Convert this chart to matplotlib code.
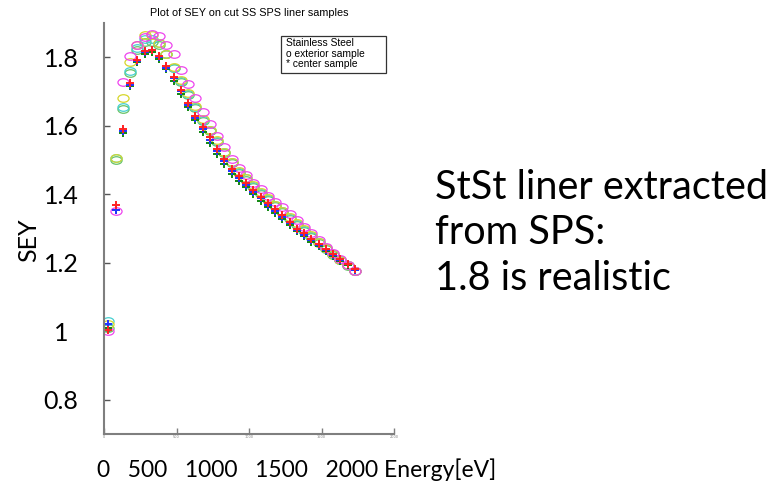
import numpy as np
import matplotlib
matplotlib.use('Agg')
import matplotlib.pyplot as plt
from matplotlib.path import Path
from matplotlib.transforms import Affine2D
from matplotlib.patches import Rectangle

# energy grid of the SEY scans [eV]
energy = [30, 80, 130, 180, 230, 280, 330, 380, 430, 480, 530, 580, 630, 680,
          730, 780, 830, 880, 930, 980, 1030, 1080, 1130, 1180, 1230, 1280,
          1330, 1380, 1430, 1480, 1530, 1580, 1630, 1680, 1730]

# exterior samples (circles)
ext_m = [1.000, 1.350, 1.728, 1.803, 1.835, 1.858, 1.869, 1.861, 1.835, 1.808, 1.764, 1.723,
         1.681, 1.641, 1.605, 1.571, 1.538, 1.502, 1.476, 1.456, 1.434, 1.414, 1.395,
         1.378, 1.362, 1.342, 1.325, 1.305, 1.286, 1.267, 1.245, 1.228, 1.211, 1.194, 1.176]
ext_y = [1.020, 1.506, 1.680, 1.787, 1.835, 1.864, 1.864, 1.842, 1.810, 1.772, 1.733, 1.696,
         1.657, 1.620, 1.589, 1.558, 1.524, 1.495, 1.468, 1.448, 1.426, 1.406, 1.388,
         1.370, 1.352, 1.334, 1.316, 1.298, 1.280, 1.262, 1.243, 1.226, 1.209, 1.193, 1.177]
ext_c = [1.030, 1.506, 1.656, 1.760, 1.826, 1.854, 1.852, 1.842, 1.810, 1.770, 1.730, 1.692,
         1.655, 1.618, 1.587, 1.556, 1.522, 1.493, 1.466, 1.446, 1.424, 1.404, 1.386,
         1.368, 1.350, 1.332, 1.314, 1.296, 1.278, 1.260, 1.242, 1.225, 1.208, 1.192, 1.177]
ext_g = [1.010, 1.500, 1.650, 1.755, 1.820, 1.845, 1.845, 1.835, 1.809, 1.768, 1.728, 1.690,
         1.652, 1.615, 1.585, 1.553, 1.520, 1.490, 1.463, 1.443, 1.421, 1.401, 1.383,
         1.365, 1.347, 1.329, 1.311, 1.294, 1.276, 1.258, 1.240, 1.223, 1.207, 1.191, 1.176]

# center samples (crosses)
cen_r = [1.005, 1.370, 1.590, 1.726, 1.793, 1.818, 1.820, 1.803, 1.774, 1.743, 1.704, 1.667,
         1.629, 1.595, 1.566, 1.533, 1.503, 1.473, 1.453, 1.432, 1.412, 1.393, 1.373,
         1.356, 1.339, 1.320, 1.300, 1.286, 1.268, 1.255, 1.240, 1.226, 1.210, 1.196, 1.181]
cen_b = [1.020, 1.354, 1.585, 1.720, 1.790, 1.815, 1.820, 1.800, 1.770, 1.738, 1.700, 1.660,
         1.624, 1.590, 1.558, 1.527, 1.497, 1.468, 1.447, 1.427, 1.407, 1.388, 1.368,
         1.351, 1.334, 1.316, 1.296, 1.282, 1.265, 1.252, 1.237, 1.223, 1.208, 1.196, 1.180]
cen_g = [1.010, 1.354, 1.580, 1.715, 1.785, 1.810, 1.815, 1.796, 1.765, 1.732, 1.693, 1.655,
         1.616, 1.582, 1.550, 1.518, 1.488, 1.460, 1.440, 1.420, 1.400, 1.381, 1.362,
         1.345, 1.328, 1.310, 1.292, 1.278, 1.262, 1.249, 1.235, 1.221, 1.206, 1.193, 1.178]

yticks = [0.8, 1.0, 1.2, 1.4, 1.6, 1.8]
ytick_labels = ['0.8', '1', '1.2', '1.4', '1.6', '1.8']
xticks = [0, 500, 1000, 1500, 2000]

big_font = 'Lato'
grey = '#7f7f7f'

fig = plt.figure(figsize=(7.84, 4.87), dpi=100)
ax = fig.add_axes([0.1327, 0.1088, 0.3699, 0.8440])

# squashed circle, the plot was stretched sideways
oval = Path.unit_circle().transformed(Affine2D().scale(1, 0.68))

for vals, col in [(ext_g, '#66c266'), (ext_c, '#44d0d0'),
                  (ext_y, '#d6d62a'), (ext_m, '#ee44ee')]:
    ax.plot(energy, vals, linestyle='none', marker=oval, markersize=8,
            mfc='none', mec=col, mew=0.9)

for vals, col in [(cen_g, '#118811'), (cen_b, '#2233ff'), (cen_r, '#ff2222')]:
    ax.plot(energy, vals, linestyle='none', marker='+', markersize=6,
            mec=col, mew=1.4)

ax.set_xlim(0, 2000)
ax.set_ylim(0.7, 1.9)
for s in ['top', 'right']:
    ax.spines[s].set_visible(False)
for s in ['left', 'bottom']:
    ax.spines[s].set_color(grey)
    ax.spines[s].set_linewidth(1.5)

ax.set_yticks(yticks)
ax.set_yticklabels(ytick_labels, fontsize=18, family=big_font, ha='center')
ax.tick_params(axis='y', direction='in', length=4, width=1, color='#555555', pad=31)
ax.set_xticks(xticks)
ax.set_xticklabels([str(t) for t in xticks], fontsize=2.5, color=grey)
ax.tick_params(axis='x', direction='in', length=4, width=1, color=grey, pad=1)

ax.set_title('Plot of SEY on cut SS SPS liner samples', fontsize=7.8,
             family='Liberation Sans', pad=5)

# legend box drawn by hand
ax.add_patch(Rectangle((0.610, 0.878), 0.362, 0.090, transform=ax.transAxes,
                       fill=False, ec='#333333', lw=0.9, clip_on=False))
ax.text(0.628, 0.963, 'Stainless Steel\no exterior sample\n* center sample',
        transform=ax.transAxes, fontsize=7.4, family='Liberation Sans',
        va='top', ha='left', linespacing=1.05)

fig.text(0.036, 0.507, 'SEY', rotation=90, fontsize=18, family=big_font,
         ha='center', va='center')
fig.text(0.124, 0.035, '0   500   1000   1500   2000 Energy[eV]', fontsize=16.5,
         family=big_font, ha='left', va='center')
fig.text(0.555, 0.522, 'StSt liner extracted\nfrom SPS:\n1.8 is realistic',
         fontsize=28.5, family=big_font, ha='left', va='center', linespacing=1.28)

fig.savefig('out.png', dpi=100)
